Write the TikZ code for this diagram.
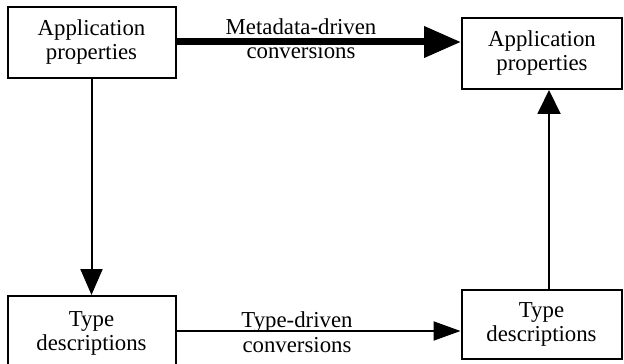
\documentclass[tikz,border=0pt]{standalone}
\usepackage{fontspec}
\setmainfont{Liberation Serif}
\usetikzlibrary{arrows.meta}
\tikzset{
  box/.style={draw,line width=1pt,minimum width=#1,minimum height=35.5pt,
    align=center,font=\fontsize{11.4}{12}\selectfont,inner sep=0pt},
  conv/.style={align=center,font=\fontsize{11.4}{12.2}\selectfont,inner sep=0pt},
}

\begin{document}
\begin{tikzpicture}[x=0.5pt,y=-0.5pt]
      \useasboundingbox (0,0) rectangle (624,363);
      \clip (0,0) rectangle (624,363);
      % boxes
      \node[box=84pt] (srcprop) at (91.5,42.5) {Application\\properties};
      \node[box=80pt] (dstprop) at (542,53.5) {Application\\properties};
      \node[box=84pt,minimum height=37pt] (srctype) at (91.5,333) {Type\\descriptions};
      \node[box=80pt,minimum height=34.5pt] (dsttype) at (541.5,324.5) {Type\\descriptions};
      % conversions
      \draw[line width=3.5pt,-{Triangle[length=18.5pt,width=15pt]}]
        (srcprop.east |- 0,42) -- (dstprop.west |- 0,42);
      \node[conv] (metalbl) at (301,39) {Metadata-driven\\conversions};
      \draw[line width=1pt,-{Triangle[length=13.5pt,width=9.5pt]}]
        (srctype.east |- 0,331) -- (dsttype.west |- 0,331);
      \node[conv] (typelbl) at (297,332) {Type-driven\\conversions};
      % derivations
      \draw[line width=1pt,-{Triangle[length=13pt,width=11pt]}]
        (srcprop.south) -- (srctype.north);
      \draw[line width=1pt,-{Triangle[length=12pt,width=11.5pt]}]
        (dsttype.north -| 549,0) -- (dstprop.south -| 549,0);
    \end{tikzpicture}
\end{document}
